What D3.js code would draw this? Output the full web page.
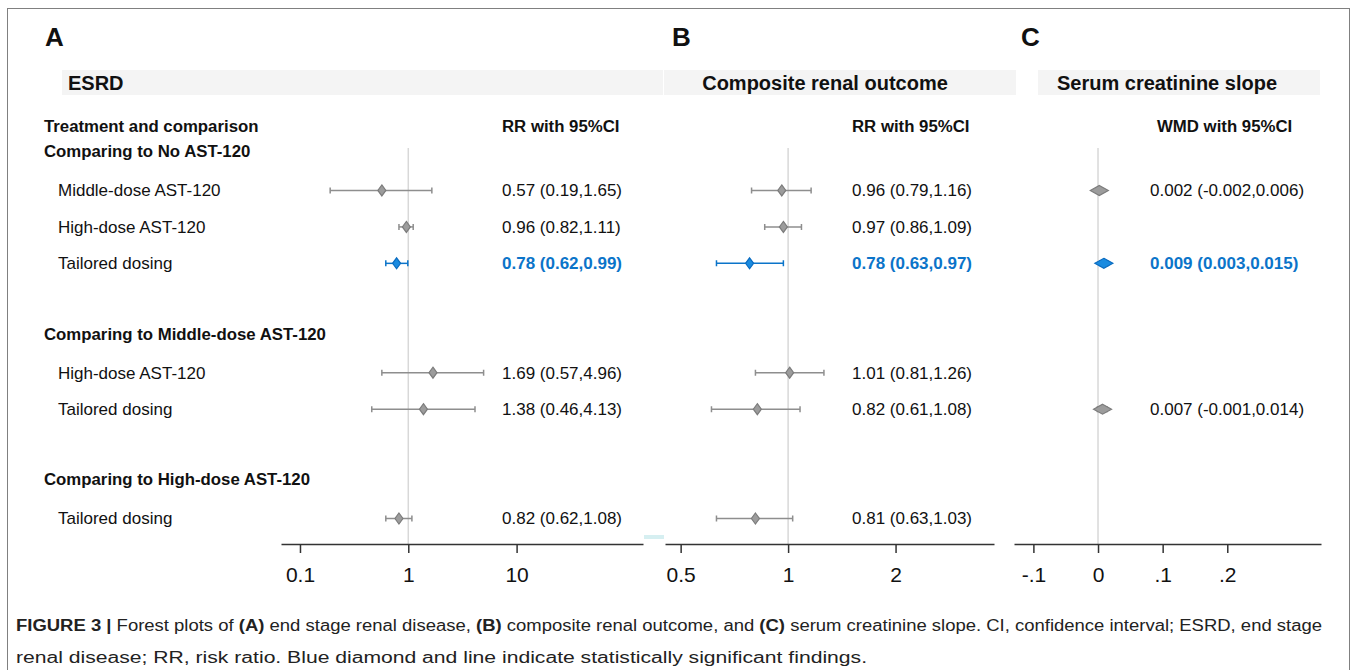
<!DOCTYPE html>
<html>
<head>
<meta charset="utf-8">
<script src="https://cdn.jsdelivr.net/npm/d3@7"></script>
<style>
  body { margin: 0; background: #fff; }
  svg text { font-family: "Liberation Sans", Arial, Helvetica, sans-serif; }
</style>
</head>
<body>
<svg id="chart" width="1357" height="670"></svg>
<script>
// rows of the forest plot
const groupLabels = ["Comparing to No AST-120", "Comparing to Middle-dose AST-120", "Comparing to High-dose AST-120"];
const groupSlots = [0, 5, 9];
const rowLabels = ["Middle-dose AST-120", "High-dose AST-120", "Tailored dosing", "High-dose AST-120", "Tailored dosing", "Tailored dosing"];
const rowSlots = [1, 2, 3, 6, 7, 10];

// A: ESRD, risk ratios
const esrdRR = [0.57, 0.96, 0.78, 1.69, 1.38, 0.82];
const esrdLo = [0.19, 0.82, 0.62, 0.57, 0.46, 0.62];
const esrdHi = [1.65, 1.11, 0.99, 4.96, 4.13, 1.08];
const esrdTicks = [0.1, 1, 10];

// B: composite renal outcome, risk ratios
const compRR = [0.96, 0.97, 0.78, 1.01, 0.82, 0.81];
const compLo = [0.79, 0.86, 0.63, 0.81, 0.61, 0.63];
const compHi = [1.16, 1.09, 0.97, 1.26, 1.08, 1.03];
const compTicks = [0.5, 1, 2];

// C: serum creatinine slope, weighted mean difference
const slopeWMD = [0.002, null, 0.009, null, 0.007, null];
const slopeLo = [-0.002, null, 0.003, null, -0.001, null];
const slopeHi = [0.006, null, 0.015, null, 0.014, null];
const slopeTicks = [-0.1, 0, 0.1, 0.2];
const slopeTickLabels = ["-.1", "0", ".1", ".2"];

const svg = d3.select("#chart");
const GRAY = "#8e8e8e", BLUE = "#0b74c9";

// outer frame
svg.append("rect").attr("x", 7.5).attr("y", 8.5).attr("width", 1342).attr("height", 700)
  .attr("fill", "none").attr("stroke", "#808080").attr("stroke-width", 1);

const y = d3.scaleLinear().domain([0, 10]).range([154, 518.5]);
const axisY = 544;

// left column texts
svg.append("text").attr("x", 44).attr("y", 132).attr("font-size", 16.8).attr("font-weight", "bold")
  .attr("fill", "#111").text("Treatment and comparison");
svg.selectAll("text.group").data(groupLabels).join("text").attr("class", "group")
  .attr("x", 44).attr("y", (d, i) => y(groupSlots[i]) - 2.5).attr("dy", "0.35em")
  .attr("font-size", 16.8).attr("font-weight", "bold").attr("fill", "#111").text(d => d);
svg.selectAll("text.row").data(rowLabels).join("text").attr("class", "row")
  .attr("x", 58).attr("y", (d, i) => y(rowSlots[i])).attr("dy", "0.35em")
  .attr("font-size", 17).attr("fill", "#111").text(d => d);

const panels = [
  { letter: "A", lx: 45, title: "ESRD", band: [62, 663], titleX: 68, anchor: "start",
    est: esrdRR, lo: esrdLo, hi: esrdHi, nullV: 1, digits: 2, head: "RR with 95%CI", textX: 502,
    scale: d3.scaleLog().domain([0.0668, 146.9]).range([281, 643]), ticks: esrdTicks, fmt: d3.format("~g"), diamond: [4, 5.5] },
  { letter: "B", lx: 672, title: "Composite renal outcome", band: [664, 1016], titleX: 825, anchor: "middle",
    est: compRR, lo: compLo, hi: compHi, nullV: 1, digits: 2, head: "RR with 95%CI", textX: 852,
    scale: d3.scaleLog().base(2).domain([0.452, 3.774]).range([665, 994]), ticks: compTicks, fmt: d3.format("~g"), diamond: [4, 5.5] },
  { letter: "C", lx: 1021, title: "Serum creatinine slope", band: [1038, 1320], titleX: 1167, anchor: "middle",
    est: slopeWMD, lo: slopeLo, hi: slopeHi, nullV: 0, digits: 3, head: "WMD with 95%CI", textX: 1150,
    scale: d3.scaleLinear().domain([-0.13, 0.345]).range([1014, 1321]), ticks: slopeTicks,
    fmt: d => slopeTickLabels[slopeTicks.indexOf(d)], diamond: [9, 5] }
];

panels.forEach(p => {
  const g = svg.append("g");
  const x = p.scale;

  g.append("text").attr("x", p.lx).attr("y", 46).attr("font-size", 26).attr("font-weight", "bold")
    .attr("fill", "#111").text(p.letter);
  g.append("rect").attr("x", p.band[0]).attr("y", 70).attr("width", p.band[1] - p.band[0]).attr("height", 25)
    .attr("fill", "#f4f4f4");
  g.append("text").attr("x", p.titleX).attr("y", 83).attr("dy", "0.35em").attr("text-anchor", p.anchor)
    .attr("font-size", 20).attr("font-weight", "bold").attr("fill", "#111").text(p.title);
  g.append("text").attr("x", p.textX + (p.letter === "C" ? 7 : 0)).attr("y", 132).attr("font-size", 16.8)
    .attr("font-weight", "bold").attr("fill", "#111").text(p.head);

  // null line
  g.append("line").attr("x1", x(p.nullV)).attr("x2", x(p.nullV)).attr("y1", 148).attr("y2", axisY)
    .attr("stroke", "#d8d8d8").attr("stroke-width", 1.5);

  // axis
  const ax = g.append("g").attr("transform", `translate(0,${axisY})`)
    .call(d3.axisBottom(x).tickValues(p.ticks).tickFormat(p.fmt).tickSize(9).tickSizeOuter(0).tickPadding(14));
  ax.select(".domain").attr("stroke", "#333").attr("stroke-width", 1.5);
  ax.selectAll(".tick line").attr("stroke", "#333").attr("stroke-width", 1.5);
  ax.selectAll(".tick text").attr("font-size", 21).attr("fill", "#111")
    .attr("font-family", "'Liberation Sans', Arial, sans-serif");

  const idx = d3.range(p.est.length).filter(i => p.est[i] !== null);
  const sig = i => p.lo[i] > p.nullV || p.hi[i] < p.nullV;
  const col = i => sig(i) ? BLUE : GRAY;

  const rows = g.selectAll("g.est").data(idx).join("g").attr("class", "est")
    .attr("transform", i => `translate(0,${y(rowSlots[i])})`);
  rows.append("line").attr("x1", i => x(p.lo[i])).attr("x2", i => x(p.hi[i]))
    .attr("stroke", col).attr("stroke-width", 1.5);
  rows.append("path").attr("d", i => `M${x(p.lo[i])},-3V3M${x(p.hi[i])},-3V3`)
    .attr("stroke", col).attr("stroke-width", 1.5);
  const [dw, dh] = p.diamond;
  rows.append("path").attr("d", i => `M${x(p.est[i])},${-dh}L${x(p.est[i]) + dw},0L${x(p.est[i])},${dh}L${x(p.est[i]) - dw},0Z`)
    .attr("fill", i => sig(i) ? "#1a8be0" : "#9c9c9c").attr("stroke", i => sig(i) ? "#0b6cc0" : "#7c7c7c")
    .attr("stroke-width", 1.2);
  rows.append("text").attr("x", p.textX).attr("dy", "0.35em").attr("font-size", 17)
    .attr("fill", i => sig(i) ? BLUE : "#111").attr("font-weight", i => sig(i) ? "bold" : "normal")
    .text(i => `${p.est[i].toFixed(p.digits)} (${p.lo[i].toFixed(p.digits)},${p.hi[i].toFixed(p.digits)})`);
});

// small scan artifact between panels
svg.append("rect").attr("x", 644).attr("y", 535).attr("width", 20).attr("height", 4).attr("fill", "#d6eff1");

// caption
const cap1 = svg.append("text").attr("x", 16).attr("y", 631).attr("font-size", 16).attr("fill", "#222")
  .attr("textLength", 1306).attr("lengthAdjust", "spacingAndGlyphs");
[["FIGURE 3 | ", true], ["Forest plots of ", false], ["(A)", true], [" end stage renal disease, ", false],
 ["(B)", true], [" composite renal outcome, and ", false], ["(C)", true],
 [" serum creatinine slope. CI, confidence interval; ESRD, end stage", false]]
  .forEach(([t, b]) => cap1.append("tspan").attr("font-weight", b ? "bold" : "normal").text(t));
svg.append("text").attr("x", 16).attr("y", 663).attr("font-size", 16).attr("fill", "#222")
  .attr("textLength", 851).attr("lengthAdjust", "spacingAndGlyphs")
  .text("renal disease; RR, risk ratio. Blue diamond and line indicate statistically significant findings.");
</script>
</body>
</html>
